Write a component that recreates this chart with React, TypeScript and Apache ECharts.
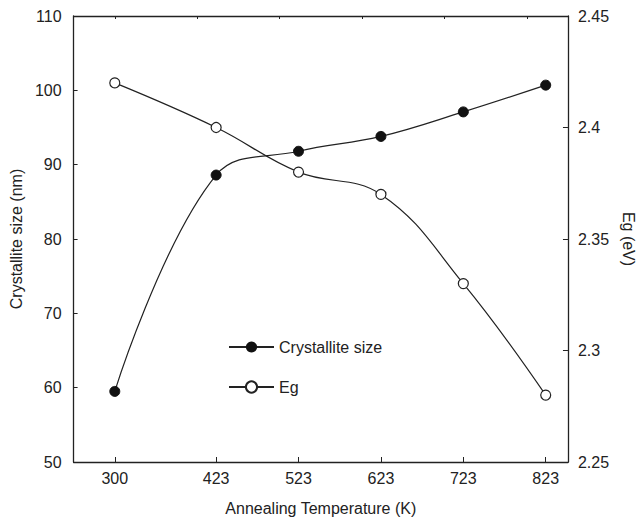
import React, { useEffect, useRef } from "react";
import * as echarts from "echarts";

const temperatures = [300, 423, 523, 623, 723, 823];
const crystalliteSize = [59.5, 88.6, 91.8, 93.8, 97.1, 100.7];
const bandGap = [2.42, 2.40, 2.38, 2.37, 2.33, 2.28];
const topTicks = [300, 400, 500, 600, 700, 800];

const FONT = "'Liberation Sans', Arial, Helvetica, sans-serif";
const INK = "#222";

export default function App() {
  const ref = useRef<HTMLDivElement>(null);
  useEffect(() => {
    if (!ref.current) return;
    const chart = echarts.init(ref.current, null, { renderer: "svg" });
    const txt = { fontFamily: FONT, fontSize: 16, color: INK };
    chart.setOption({
      animation: false,
      backgroundColor: "#fff",
      textStyle: { fontFamily: FONT },
      grid: { left: 67, right: 69, top: 16, bottom: 61 },
      legend: {
        orient: "vertical",
        left: 223,
        top: 334,
        itemWidth: 45,
        itemHeight: 14,
        itemGap: 24,
        textStyle: { ...txt },
        data: ["Crystallite size", "Eg"],
      },
      xAxis: [
        {
          type: "value",
          min: 250,
          max: 850,
          position: "bottom",
          name: "Annealing Temperature (K)",
          nameLocation: "middle",
          nameGap: 38,
          nameTextStyle: { ...txt },
          axisLine: { show: true, lineStyle: { color: INK, width: 1.3 } },
          axisTick: {
            show: true,
            inside: true,
            length: 5,
            customValues: temperatures,
            lineStyle: { color: INK },
          },
          axisLabel: { ...txt, margin: 8, customValues: temperatures },
          splitLine: { show: false },
        },
        {
          type: "value",
          min: 250,
          max: 850,
          position: "top",
          axisLine: { show: true, lineStyle: { color: INK, width: 1.3 } },
          axisTick: {
            show: true,
            inside: true,
            length: 3,
            customValues: topTicks,
            lineStyle: { color: INK },
          },
          axisLabel: { show: false },
          splitLine: { show: false },
        },
      ],
      yAxis: [
        {
          type: "value",
          min: 50,
          max: 110,
          interval: 10,
          position: "left",
          name: "Crystallite size (nm)",
          nameLocation: "middle",
          nameRotate: 90,
          nameGap: 38,
          nameTextStyle: { ...txt },
          axisLine: { show: true, lineStyle: { color: INK, width: 1.3 } },
          axisTick: { show: true, inside: true, length: 4, lineStyle: { color: INK } },
          axisLabel: { ...txt, margin: 12 },
          splitLine: { show: false },
        },
        {
          type: "value",
          min: 2.25,
          max: 2.45,
          interval: 0.05,
          position: "right",
          name: "Eg (eV)",
          nameLocation: "middle",
          nameRotate: -90,
          nameGap: 50,
          nameTextStyle: { ...txt },
          axisLine: { show: true, lineStyle: { color: INK, width: 1.3 } },
          axisTick: { show: true, inside: true, length: 5, lineStyle: { color: INK } },
          axisLabel: { ...txt, margin: 10 },
          splitLine: { show: false },
        },
      ],
      series: [
        {
          name: "Crystallite size",
          type: "line",
          xAxisIndex: 0,
          yAxisIndex: 0,
          smooth: 0.4,
          symbol: "circle",
          symbolSize: 10,
          itemStyle: { color: "#111", borderColor: "#111" },
          lineStyle: { color: INK, width: 1.2 },
          data: temperatures.map((t, i) => [t, crystalliteSize[i]]),
        },
        {
          name: "Eg",
          type: "line",
          xAxisIndex: 0,
          yAxisIndex: 1,
          smooth: 0.4,
          symbol: "circle",
          symbolSize: 10,
          itemStyle: { color: "#fff", borderColor: INK, borderWidth: 1.2 },
          lineStyle: { color: INK, width: 1.2 },
          data: temperatures.map((t, i) => [t, bandGap[i]]),
        },
      ],
    });
    return () => chart.dispose();
  }, []);
  return <div ref={ref} style={{ width: 644, height: 523, marginLeft: -8, marginTop: -8 }} />;
}
